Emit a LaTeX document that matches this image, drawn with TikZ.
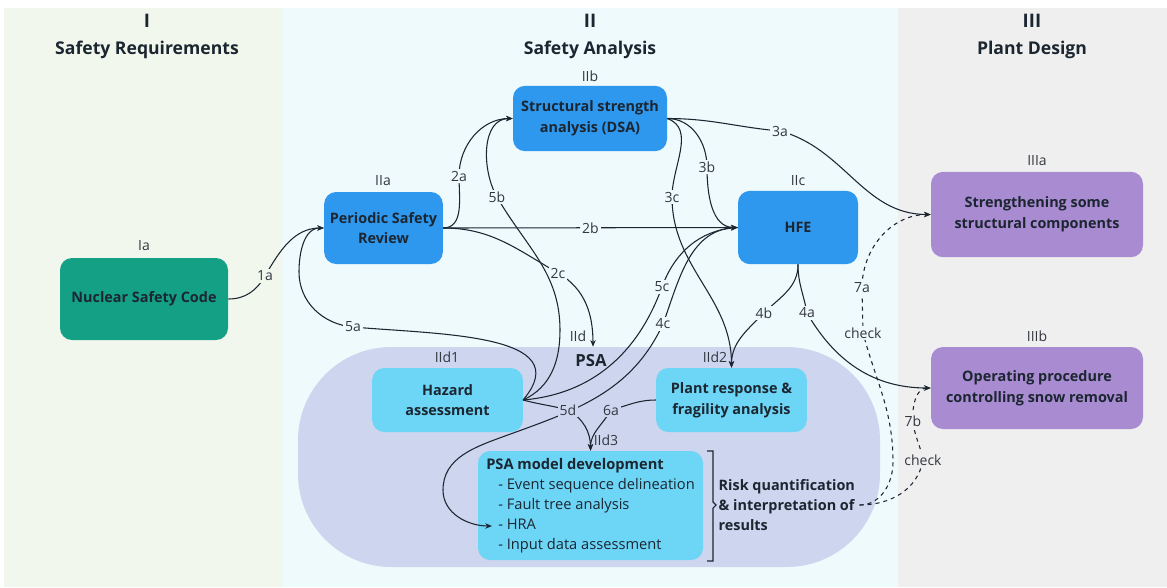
\documentclass[tikz,border=0pt]{standalone}
\usepackage{fontspec}
\setmainfont{Open Sans}
\usetikzlibrary{arrows.meta}

\definecolor{bgI}{HTML}{F2F7EE}
\definecolor{bgII}{HTML}{EEFAFC}
\definecolor{bgIII}{HTML}{EFEFEF}
\definecolor{codeteal}{HTML}{14A085}
\definecolor{anablue}{HTML}{2E97EE}
\definecolor{subcyan}{HTML}{6DD5F6}
\definecolor{psafill}{HTML}{CDD6EE}
\definecolor{plantpurple}{HTML}{A98BD2}
\definecolor{ink}{HTML}{1B2631}
\definecolor{tagink}{HTML}{333840}

\tikzset{
	box/.style={rounded corners=9pt, align=center, text=ink, font=\bfseries\fontsize{10.8}{15.5}\selectfont},
	codebox/.style={box, fill=codeteal},
	anabox/.style={box, fill=anablue},
	subbox/.style={box, fill=subcyan},
	plantbox/.style={box, fill=plantpurple},
	head/.style={text=ink, font=\bfseries\fontsize{14}{16}\selectfont},
	title/.style={text=ink, font=\bfseries\fontsize{13.2}{16}\selectfont},
	tag/.style={text=tagink, font=\fontsize{10.5}{12}\selectfont},
	lbl/.style={tag, fill=bgII, inner sep=1.5pt},
	link/.style={-{Stealth[length=5pt,width=4pt]}, line width=0.8pt, ink},
}

\begin{document}
\begin{tikzpicture}[x=0.75pt, y=-0.75pt]
		\useasboundingbox (0,0) rectangle (1167,587);
		
		% columns
		\fill[bgI] (4,8) rectangle (282,587);
		\fill[bgII] (282,8) rectangle (898,587);
		\fill[bgIII] (898,8) rectangle (1167,587);
		
		\node[head] (hI) at (147,21) {I};
		\node[title] (tI) at (147,50) {Safety Requirements};
		\node[head] (hII) at (590,21) {II};
		\node[title] (tII) at (590,50) {Safety Analysis};
		\node[head] (hIII) at (1032,21) {III};
		\node[title] (tIII) at (1032,50) {Plant Design};
		
		% PSA area
		\node[fill=psafill, rounded corners=70pt, minimum width=436.5pt, minimum height=165pt] (psa) at (589,457) {};
		\node[text=ink, font=\bfseries\fontsize{12.5}{14}\selectfont] (psat) at (591,361) {PSA};
		\node[tag] (tIId) at (578,336) {IId};
		
		\node[codebox, minimum width=126pt, minimum height=61.5pt] (Ia) at (144,299) {Nuclear Safety Code};
		\node[tag] (tIa) at (144,246) {Ia};
		
		\node[anabox, minimum width=89pt, minimum height=54pt] (IIa) at (383.5,228) {Periodic Safety\\Review};
		\node[tag] (tIIa) at (383,181) {IIa};
		\node[anabox, minimum width=115.5pt, minimum height=49pt] (IIb) at (590,118.5) {Structural strength\\analysis (DSA)};
		\node[tag] (tIIb) at (590,76) {IIb};
		\node[anabox, minimum width=90pt, minimum height=55pt] (IIc) at (798,227.5) {HFE};
		\node[tag] (tIIc) at (798,181) {IIc};
		
		\node[subbox, minimum width=113pt, minimum height=48pt] (IId1) at (447.5,400) {Hazard\\assessment};
		\node[tag] (tIId1) at (447,357) {IId1};
		\node[subbox, minimum width=113pt, minimum height=48pt] (IId2) at (731.5,400) {Plant response \&\\fragility analysis};
		\node[tag] (tIId2) at (715,357) {IId2};
		\node[subbox, minimum width=168.75pt, minimum height=81.75pt, align=left, font=\fontsize{11}{15}\selectfont] (IId3) at (590.5,505.5)
			{\textbf{PSA model development}\\\hspace*{9pt}- Event sequence delineation\\\hspace*{9pt}- Fault tree analysis\\\hspace*{9pt}- HRA\\\hspace*{9pt}- Input data assessment};
		\node[tag] (tIId3) at (606,440) {IId3};
		\coordinate (hra) at (492,526);
		
		\draw[line width=0.8pt, ink] (707,451) -- (713,451) -- (713,502) -- (716,505) -- (713,508) -- (713,561) -- (707,561);
		\node[anchor=west, align=left, text=ink, font=\bfseries\fontsize{10.8}{15}\selectfont] (risk) at (714,505) {Risk quantification\\\& interpretation of\\results};
		
		\node[plantbox, minimum width=159pt, minimum height=64pt] (IIIa) at (1037,214.5) {Strengthening some\\structural components};
		\node[tag] (tIIIa) at (1037,161) {IIIa};
		\node[plantbox, minimum width=159pt, minimum height=61.5pt] (IIIb) at (1037,388) {Operating procedure\\controlling snow removal};
		\node[tag] (tIIIb) at (1037,336) {IIIb};
		
		\draw[link] (Ia.east) to[out=0,in=-120] (265,276) node[lbl, fill=bgI] (l1a) {1a} to[out=60,in=180] (IIa.west);
		
		\draw[link] (IIa.east) to[out=0,in=-90] (459,176) node[lbl] (l2a) {2a} to[out=90,in=180] (IIb.west);
		\draw[link] (IIa.east) -- node[lbl] (l2b) {2b} (IIc.west);
		\draw[link] (IIa.east) to[out=0,in=150] (558,273) node[lbl] (l2c) {2c} to[out=-30,in=90] ([xshift=3pt]psa.north);
		
		\draw[link] (IIb.east) to[out=0,in=175] (780,131) node[lbl] (l3a) {3a} to[out=-15,in=180] (IIIa.west);
		\draw[link] (IIb.east) to[out=0,in=90] (707,167) node[lbl] (l3b) {3b} to[out=-90,in=180] (IIc.west);
		\draw[link] (IIb.east) to[out=-20,in=90] (672,197) node[lbl] (l3c) {3c} to[out=-90,in=90] (IId2.north);
		
		\draw[link] (IIc.south) to[out=-90,in=100] (807,313) node[lbl] (l4a) {4a} to[out=-60,in=180] (IIIb.west);
		\draw[link] (IIc.south) to[out=-90,in=45] (764,313) node[lbl] (l4b) {4b} to[out=-135,in=90] (IId2.north);
		\draw[link] (IIc.west) to[out=180,in=70] (663,324) node[lbl] (l4c) {4c} to[out=-115,in=20] (505,436) to[out=200,in=90] (443,490) to[out=-90,in=180] (hra);
		
		\draw[link] (IId1.east) to[out=50,in=-5,looseness=1.2] (353,327) node[lbl] (l5a) {5a} to[out=175,in=-90] (299,272) to[out=90,in=180] (IIa.west);
		\draw[link] (IId1.east) to[out=25,in=-90] (560,330) to[out=90,in=-60] (497,197) node[lbl] (l5b) {5b} to[out=120,in=180] (IIb.west);
		\draw[link] (IId1.east) to[out=5,in=-110] (662,287) node[lbl] (l5c) {5c} to[out=70,in=185] (IIc.west);
		\draw[link] (IId1.east) to[out=-15,in=165] (568,410) node[lbl, fill=psafill] (l5d) {5d} to[out=-30,in=90] (IId3.north);
		\draw[link] (IId2.west) to[out=180,in=15] (611,410) node[lbl, fill=psafill] (l6a) {6a} to[out=-120,in=90] (IId3.north);
		
		\draw[link, dashed] (risk.east) to[out=0,in=-90] (893,462) to[out=90,in=-75] (863,333) node[lbl] (l7ac) {check} -- (862,288) node[lbl] (l7a) {7a} to[out=90,in=180] (IIIa.west);
		\draw[link, dashed] (risk.east) to[out=0,in=-100] (923,460) node[lbl, fill=bgIII] (l7bc) {check} to[out=100,in=-85] (913,421) node[lbl, fill=bgIII] (l7b) {7b} to[out=95,in=180] (IIIb.west);
		
\end{tikzpicture}
\end{document}
